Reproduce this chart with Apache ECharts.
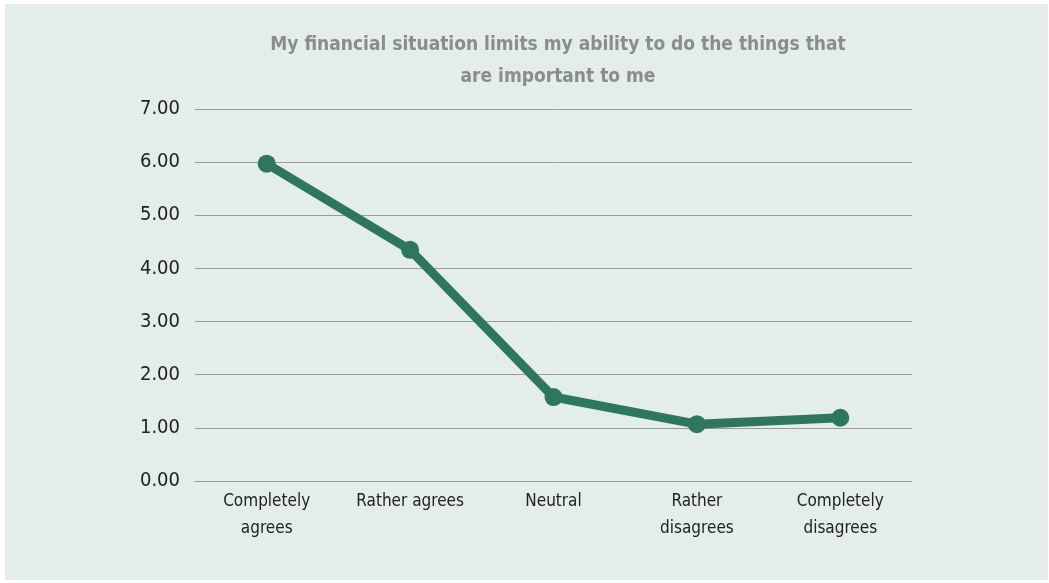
<!DOCTYPE html>
<html>
<head>
<meta charset="utf-8">
<script src="https://cdn.jsdelivr.net/npm/echarts@6/dist/echarts.min.js"></script>
<style>
html,body{margin:0;padding:0;background:#ffffff;}
#wrap{position:absolute;left:0;top:0;width:1049px;height:583px;background:#ffffff;}
#chart{position:absolute;left:5px;top:4px;width:1043px;height:576px;background:#e3edea;}
</style>
</head>
<body>
<div id="wrap"><div id="chart"></div></div>
<script>
const titleText = "My financial situation limits my ability to do the things that\nare important to me";
const categories = ["Completely\nagrees", "Rather agrees", "Neutral", "Rather\ndisagrees", "Completely\ndisagrees"];
const values = [5.97, 4.35, 1.58, 1.07, 1.19];
const yTicks = { min: 0, max: 7, interval: 1 };

const FONT = "'Liberation Sans Narrow', 'DejaVu Sans Condensed', 'Roboto Condensed', sans-serif";
const chart = echarts.init(document.getElementById('chart'), null, { renderer: 'canvas' });
chart.setOption({
  backgroundColor: '#e3edea',
  animation: false,
  title: {
    text: titleText,
    left: 548,
    top: 20,
    textAlign: 'center',
    textStyle: {
      fontFamily: FONT,
      fontSize: 19,
      fontWeight: 'bold',
      color: '#8c8c8c',
      lineHeight: 32
    }
  },
  grid: { left: 190, top: 105, width: 717, height: 372, containLabel: false },
  xAxis: {
    type: 'category',
    data: categories,
    boundaryGap: true,
    axisLine: { show: true, lineStyle: { color: '#9a9a9a', width: 1 } },
    axisTick: { show: false },
    axisLabel: {
      interval: 0,
      margin: 7,
      fontFamily: FONT,
      fontSize: 17,
      lineHeight: 27,
      color: '#222222'
    }
  },
  yAxis: {
    type: 'value',
    min: yTicks.min,
    max: yTicks.max,
    interval: yTicks.interval,
    axisLine: { show: false },
    axisTick: { show: false },
    splitLine: { show: true, lineStyle: { color: '#9a9a9a', width: 1 } },
    axisLabel: {
      margin: 15,
      fontFamily: FONT,
      fontSize: 20,
      color: '#222222',
      formatter: v => v.toFixed(2)
    }
  },
  series: [{
    type: 'line',
    data: values,
    symbol: 'circle',
    symbolSize: 18,
    lineStyle: { color: '#2f765f', width: 9 },
    itemStyle: { color: '#2f765f' }
  }]
});
</script>
</body>
</html>
